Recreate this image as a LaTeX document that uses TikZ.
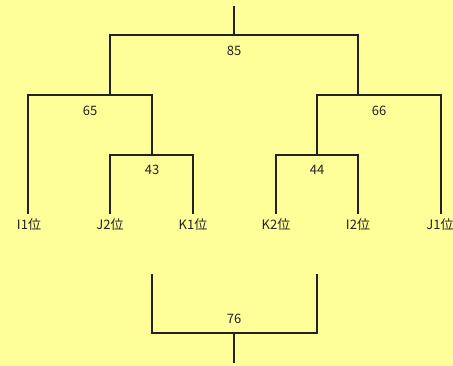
\documentclass[tikz,border=0pt]{standalone}
\usepackage{fontspec}
\setmainfont{Noto Sans CJK JP}
\definecolor{bg}{HTML}{FFFF99}
\definecolor{ln}{HTML}{222222}
\begin{document}
\begin{tikzpicture}[x=1pt,y=-1pt,
  link/.style={draw=ln,line width=1.4pt},
  lbl/.style={inner sep=0pt,font=\fontsize{13}{14}\selectfont,text=ln},
  leaf/.style={inner sep=0pt,font=\fontsize{13}{14}\selectfont,text=ln}]
\fill[bg] (0,0) rectangle (453,366);
\useasboundingbox (0,0) rectangle (453,366);
% junction coordinates
\coordinate (top) at (234,6);
\coordinate (r85) at (234,35);
\coordinate (l85) at (110,35);
\coordinate (rr85) at (358,35);
\coordinate (c65) at (110,95);
\coordinate (a65) at (28,95);
\coordinate (b65) at (152,95);
\coordinate (c43) at (152,155);
\coordinate (a43) at (110,155);
\coordinate (b43) at (193,155);
\coordinate (c66) at (358,95);
\coordinate (a66) at (317,95);
\coordinate (b66) at (441,95);
\coordinate (c44) at (317,155);
\coordinate (a44) at (276,155);
\coordinate (b44) at (358,155);
% leaf ends
\coordinate (eI1) at (28,214);
\coordinate (eJ2) at (110,214);
\coordinate (eK1) at (193,214);
\coordinate (eK2) at (276,214);
\coordinate (eI2) at (358,214);
\coordinate (eJ1) at (441,214);
% leaves
\node[leaf] (I1) at (29,225) {I1位};
\node[leaf] (J2) at (110,225) {J2位};
\node[leaf] (K1) at (193,225) {K1位};
\node[leaf] (K2) at (276,225) {K2位};
\node[leaf] (I2) at (358,225) {I2位};
\node[leaf] (J1) at (440,225) {J1位};
% labels
\node[lbl] (n85) at (234,51) {85};
\node[lbl] (n65) at (90,111) {65};
\node[lbl] (n43) at (152,170) {43};
\node[lbl] (n66) at (379,111) {66};
\node[lbl] (n44) at (317,170) {44};
\node[lbl] (n76) at (234,319) {76};
% tree
\draw[link] (top) -- (r85);
\draw[link] (c65) -- (l85) -- (rr85) -- (c66);
\draw[link] (eI1) -- (a65) -- (b65) -- (c43);
\draw[link] (eJ2) -- (a43) -- (b43) -- (eK1);
\draw[link] (eJ1) -- (b66) -- (a66) -- (c44);
\draw[link] (eK2) -- (a44) -- (b44) -- (eI2);
% bottom bracket
\coordinate (bl) at (152,274);
\coordinate (br) at (317,274);
\coordinate (bbl) at (152,333);
\coordinate (bbr) at (317,333);
\coordinate (bm) at (234,333);
\coordinate (bend) at (234,363);
\draw[link] (bl) -- (bbl) -- (bbr) -- (br);
\draw[link] (bm) -- (bend);
\end{tikzpicture}
\end{document}
